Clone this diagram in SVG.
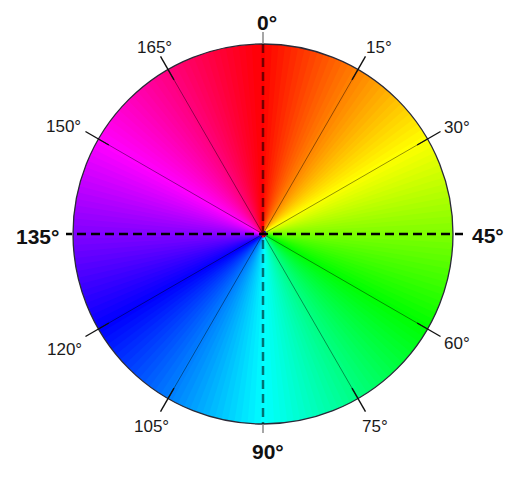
<svg xmlns="http://www.w3.org/2000/svg" xmlns:xlink="http://www.w3.org/1999/xlink" width="519" height="481" viewBox="0 0 519 481">
<style>
.s{font-family:"Liberation Sans",Arial,sans-serif;font-size:17px;fill:#1a1a1a}
.b{font-family:"Liberation Sans",Arial,sans-serif;font-size:21px;font-weight:bold;fill:#111}
.thin{stroke:#000;stroke-opacity:0.55;stroke-width:0.7}
.tick{stroke:#111;stroke-width:1.4}
</style>
<defs>
<clipPath id="cc"><circle cx="0" cy="0" r="190"/></clipPath>
<path id="w" d="M-1.2 3L-4.6 -200L4.6 -200L1.2 3Z"/>
</defs>
<rect width="519" height="481" fill="#fff"/>
<g id="wheel" transform="translate(263 234)">
<g clip-path="url(#cc)">
<use href="#w" fill="hsl(0,100%,50%)"/>
<use href="#w" transform="rotate(2)" fill="hsl(2,100%,50%)"/>
<use href="#w" transform="rotate(4)" fill="hsl(4,100%,50%)"/>
<use href="#w" transform="rotate(6)" fill="hsl(6,100%,50%)"/>
<use href="#w" transform="rotate(8)" fill="hsl(8,100%,50%)"/>
<use href="#w" transform="rotate(10)" fill="hsl(10,100%,50%)"/>
<use href="#w" transform="rotate(12)" fill="hsl(12,100%,50%)"/>
<use href="#w" transform="rotate(14)" fill="hsl(14,100%,50%)"/>
<use href="#w" transform="rotate(16)" fill="hsl(16,100%,50%)"/>
<use href="#w" transform="rotate(18)" fill="hsl(18,100%,50%)"/>
<use href="#w" transform="rotate(20)" fill="hsl(20,100%,50%)"/>
<use href="#w" transform="rotate(22)" fill="hsl(22,100%,50%)"/>
<use href="#w" transform="rotate(24)" fill="hsl(24,100%,50%)"/>
<use href="#w" transform="rotate(26)" fill="hsl(26,100%,50%)"/>
<use href="#w" transform="rotate(28)" fill="hsl(28,100%,50%)"/>
<use href="#w" transform="rotate(30)" fill="hsl(30,100%,50%)"/>
<use href="#w" transform="rotate(32)" fill="hsl(32,100%,50%)"/>
<use href="#w" transform="rotate(34)" fill="hsl(34,100%,50%)"/>
<use href="#w" transform="rotate(36)" fill="hsl(36,100%,50%)"/>
<use href="#w" transform="rotate(38)" fill="hsl(38,100%,50%)"/>
<use href="#w" transform="rotate(40)" fill="hsl(40,100%,50%)"/>
<use href="#w" transform="rotate(42)" fill="hsl(42,100%,50%)"/>
<use href="#w" transform="rotate(44)" fill="hsl(44,100%,50%)"/>
<use href="#w" transform="rotate(46)" fill="hsl(46,100%,50%)"/>
<use href="#w" transform="rotate(48)" fill="hsl(48,100%,50%)"/>
<use href="#w" transform="rotate(50)" fill="hsl(50,100%,50%)"/>
<use href="#w" transform="rotate(52)" fill="hsl(52,100%,50%)"/>
<use href="#w" transform="rotate(54)" fill="hsl(54,100%,50%)"/>
<use href="#w" transform="rotate(56)" fill="hsl(56,100%,50%)"/>
<use href="#w" transform="rotate(58)" fill="hsl(58,100%,50%)"/>
<use href="#w" transform="rotate(60)" fill="hsl(60,100%,50%)"/>
<use href="#w" transform="rotate(62)" fill="hsl(62,100%,50%)"/>
<use href="#w" transform="rotate(64)" fill="hsl(64,100%,50%)"/>
<use href="#w" transform="rotate(66)" fill="hsl(66,100%,50%)"/>
<use href="#w" transform="rotate(68)" fill="hsl(68,100%,50%)"/>
<use href="#w" transform="rotate(70)" fill="hsl(70,100%,50%)"/>
<use href="#w" transform="rotate(72)" fill="hsl(72,100%,50%)"/>
<use href="#w" transform="rotate(74)" fill="hsl(74,100%,50%)"/>
<use href="#w" transform="rotate(76)" fill="hsl(76,100%,50%)"/>
<use href="#w" transform="rotate(78)" fill="hsl(78,100%,50%)"/>
<use href="#w" transform="rotate(80)" fill="hsl(80,100%,50%)"/>
<use href="#w" transform="rotate(82)" fill="hsl(82,100%,50%)"/>
<use href="#w" transform="rotate(84)" fill="hsl(84,100%,50%)"/>
<use href="#w" transform="rotate(86)" fill="hsl(86,100%,50%)"/>
<use href="#w" transform="rotate(88)" fill="hsl(88,100%,50%)"/>
<use href="#w" transform="rotate(90)" fill="hsl(90,100%,50%)"/>
<use href="#w" transform="rotate(92)" fill="hsl(92,100%,50%)"/>
<use href="#w" transform="rotate(94)" fill="hsl(94,100%,50%)"/>
<use href="#w" transform="rotate(96)" fill="hsl(96,100%,50%)"/>
<use href="#w" transform="rotate(98)" fill="hsl(98,100%,50%)"/>
<use href="#w" transform="rotate(100)" fill="hsl(100,100%,50%)"/>
<use href="#w" transform="rotate(102)" fill="hsl(102,100%,50%)"/>
<use href="#w" transform="rotate(104)" fill="hsl(104,100%,50%)"/>
<use href="#w" transform="rotate(106)" fill="hsl(106,100%,50%)"/>
<use href="#w" transform="rotate(108)" fill="hsl(108,100%,50%)"/>
<use href="#w" transform="rotate(110)" fill="hsl(110,100%,50%)"/>
<use href="#w" transform="rotate(112)" fill="hsl(112,100%,50%)"/>
<use href="#w" transform="rotate(114)" fill="hsl(114,100%,50%)"/>
<use href="#w" transform="rotate(116)" fill="hsl(116,100%,50%)"/>
<use href="#w" transform="rotate(118)" fill="hsl(118,100%,50%)"/>
<use href="#w" transform="rotate(120)" fill="hsl(120,100%,50%)"/>
<use href="#w" transform="rotate(122)" fill="hsl(122,100%,50%)"/>
<use href="#w" transform="rotate(124)" fill="hsl(124,100%,50%)"/>
<use href="#w" transform="rotate(126)" fill="hsl(126,100%,50%)"/>
<use href="#w" transform="rotate(128)" fill="hsl(128,100%,50%)"/>
<use href="#w" transform="rotate(130)" fill="hsl(130,100%,50%)"/>
<use href="#w" transform="rotate(132)" fill="hsl(132,100%,50%)"/>
<use href="#w" transform="rotate(134)" fill="hsl(134,100%,50%)"/>
<use href="#w" transform="rotate(136)" fill="hsl(136,100%,50%)"/>
<use href="#w" transform="rotate(138)" fill="hsl(138,100%,50%)"/>
<use href="#w" transform="rotate(140)" fill="hsl(140,100%,50%)"/>
<use href="#w" transform="rotate(142)" fill="hsl(142,100%,50%)"/>
<use href="#w" transform="rotate(144)" fill="hsl(144,100%,50%)"/>
<use href="#w" transform="rotate(146)" fill="hsl(146,100%,50%)"/>
<use href="#w" transform="rotate(148)" fill="hsl(148,100%,50%)"/>
<use href="#w" transform="rotate(150)" fill="hsl(150,100%,50%)"/>
<use href="#w" transform="rotate(152)" fill="hsl(152,100%,50%)"/>
<use href="#w" transform="rotate(154)" fill="hsl(154,100%,50%)"/>
<use href="#w" transform="rotate(156)" fill="hsl(156,100%,50%)"/>
<use href="#w" transform="rotate(158)" fill="hsl(158,100%,50%)"/>
<use href="#w" transform="rotate(160)" fill="hsl(160,100%,50%)"/>
<use href="#w" transform="rotate(162)" fill="hsl(162,100%,50%)"/>
<use href="#w" transform="rotate(164)" fill="hsl(164,100%,50%)"/>
<use href="#w" transform="rotate(166)" fill="hsl(166,100%,50%)"/>
<use href="#w" transform="rotate(168)" fill="hsl(168,100%,50%)"/>
<use href="#w" transform="rotate(170)" fill="hsl(170,100%,50%)"/>
<use href="#w" transform="rotate(172)" fill="hsl(172,100%,50%)"/>
<use href="#w" transform="rotate(174)" fill="hsl(174,100%,50%)"/>
<use href="#w" transform="rotate(176)" fill="hsl(176,100%,50%)"/>
<use href="#w" transform="rotate(178)" fill="hsl(178,100%,50%)"/>
<use href="#w" transform="rotate(180)" fill="hsl(180,100%,50%)"/>
<use href="#w" transform="rotate(182)" fill="hsl(182,100%,50%)"/>
<use href="#w" transform="rotate(184)" fill="hsl(184,100%,50%)"/>
<use href="#w" transform="rotate(186)" fill="hsl(186,100%,50%)"/>
<use href="#w" transform="rotate(188)" fill="hsl(188,100%,50%)"/>
<use href="#w" transform="rotate(190)" fill="hsl(190,100%,50%)"/>
<use href="#w" transform="rotate(192)" fill="hsl(192,100%,50%)"/>
<use href="#w" transform="rotate(194)" fill="hsl(194,100%,50%)"/>
<use href="#w" transform="rotate(196)" fill="hsl(196,100%,50%)"/>
<use href="#w" transform="rotate(198)" fill="hsl(198,100%,50%)"/>
<use href="#w" transform="rotate(200)" fill="hsl(200,100%,50%)"/>
<use href="#w" transform="rotate(202)" fill="hsl(202,100%,50%)"/>
<use href="#w" transform="rotate(204)" fill="hsl(204,100%,50%)"/>
<use href="#w" transform="rotate(206)" fill="hsl(206,100%,50%)"/>
<use href="#w" transform="rotate(208)" fill="hsl(208,100%,50%)"/>
<use href="#w" transform="rotate(210)" fill="hsl(210,100%,50%)"/>
<use href="#w" transform="rotate(212)" fill="hsl(212,100%,50%)"/>
<use href="#w" transform="rotate(214)" fill="hsl(214,100%,50%)"/>
<use href="#w" transform="rotate(216)" fill="hsl(216,100%,50%)"/>
<use href="#w" transform="rotate(218)" fill="hsl(218,100%,50%)"/>
<use href="#w" transform="rotate(220)" fill="hsl(220,100%,50%)"/>
<use href="#w" transform="rotate(222)" fill="hsl(222,100%,50%)"/>
<use href="#w" transform="rotate(224)" fill="hsl(224,100%,50%)"/>
<use href="#w" transform="rotate(226)" fill="hsl(226,100%,50%)"/>
<use href="#w" transform="rotate(228)" fill="hsl(228,100%,50%)"/>
<use href="#w" transform="rotate(230)" fill="hsl(230,100%,50%)"/>
<use href="#w" transform="rotate(232)" fill="hsl(232,100%,50%)"/>
<use href="#w" transform="rotate(234)" fill="hsl(234,100%,50%)"/>
<use href="#w" transform="rotate(236)" fill="hsl(236,100%,50%)"/>
<use href="#w" transform="rotate(238)" fill="hsl(238,100%,50%)"/>
<use href="#w" transform="rotate(240)" fill="hsl(240,100%,50%)"/>
<use href="#w" transform="rotate(242)" fill="hsl(242,100%,50%)"/>
<use href="#w" transform="rotate(244)" fill="hsl(244,100%,50%)"/>
<use href="#w" transform="rotate(246)" fill="hsl(246,100%,50%)"/>
<use href="#w" transform="rotate(248)" fill="hsl(248,100%,50%)"/>
<use href="#w" transform="rotate(250)" fill="hsl(250,100%,50%)"/>
<use href="#w" transform="rotate(252)" fill="hsl(252,100%,50%)"/>
<use href="#w" transform="rotate(254)" fill="hsl(254,100%,50%)"/>
<use href="#w" transform="rotate(256)" fill="hsl(256,100%,50%)"/>
<use href="#w" transform="rotate(258)" fill="hsl(258,100%,50%)"/>
<use href="#w" transform="rotate(260)" fill="hsl(260,100%,50%)"/>
<use href="#w" transform="rotate(262)" fill="hsl(262,100%,50%)"/>
<use href="#w" transform="rotate(264)" fill="hsl(264,100%,50%)"/>
<use href="#w" transform="rotate(266)" fill="hsl(266,100%,50%)"/>
<use href="#w" transform="rotate(268)" fill="hsl(268,100%,50%)"/>
<use href="#w" transform="rotate(270)" fill="hsl(270,100%,50%)"/>
<use href="#w" transform="rotate(272)" fill="hsl(272,100%,50%)"/>
<use href="#w" transform="rotate(274)" fill="hsl(274,100%,50%)"/>
<use href="#w" transform="rotate(276)" fill="hsl(276,100%,50%)"/>
<use href="#w" transform="rotate(278)" fill="hsl(278,100%,50%)"/>
<use href="#w" transform="rotate(280)" fill="hsl(280,100%,50%)"/>
<use href="#w" transform="rotate(282)" fill="hsl(282,100%,50%)"/>
<use href="#w" transform="rotate(284)" fill="hsl(284,100%,50%)"/>
<use href="#w" transform="rotate(286)" fill="hsl(286,100%,50%)"/>
<use href="#w" transform="rotate(288)" fill="hsl(288,100%,50%)"/>
<use href="#w" transform="rotate(290)" fill="hsl(290,100%,50%)"/>
<use href="#w" transform="rotate(292)" fill="hsl(292,100%,50%)"/>
<use href="#w" transform="rotate(294)" fill="hsl(294,100%,50%)"/>
<use href="#w" transform="rotate(296)" fill="hsl(296,100%,50%)"/>
<use href="#w" transform="rotate(298)" fill="hsl(298,100%,50%)"/>
<use href="#w" transform="rotate(300)" fill="hsl(300,100%,50%)"/>
<use href="#w" transform="rotate(302)" fill="hsl(302,100%,50%)"/>
<use href="#w" transform="rotate(304)" fill="hsl(304,100%,50%)"/>
<use href="#w" transform="rotate(306)" fill="hsl(306,100%,50%)"/>
<use href="#w" transform="rotate(308)" fill="hsl(308,100%,50%)"/>
<use href="#w" transform="rotate(310)" fill="hsl(310,100%,50%)"/>
<use href="#w" transform="rotate(312)" fill="hsl(312,100%,50%)"/>
<use href="#w" transform="rotate(314)" fill="hsl(314,100%,50%)"/>
<use href="#w" transform="rotate(316)" fill="hsl(316,100%,50%)"/>
<use href="#w" transform="rotate(318)" fill="hsl(318,100%,50%)"/>
<use href="#w" transform="rotate(320)" fill="hsl(320,100%,50%)"/>
<use href="#w" transform="rotate(322)" fill="hsl(322,100%,50%)"/>
<use href="#w" transform="rotate(324)" fill="hsl(324,100%,50%)"/>
<use href="#w" transform="rotate(326)" fill="hsl(326,100%,50%)"/>
<use href="#w" transform="rotate(328)" fill="hsl(328,100%,50%)"/>
<use href="#w" transform="rotate(330)" fill="hsl(330,100%,50%)"/>
<use href="#w" transform="rotate(332)" fill="hsl(332,100%,50%)"/>
<use href="#w" transform="rotate(334)" fill="hsl(334,100%,50%)"/>
<use href="#w" transform="rotate(336)" fill="hsl(336,100%,50%)"/>
<use href="#w" transform="rotate(338)" fill="hsl(338,100%,50%)"/>
<use href="#w" transform="rotate(340)" fill="hsl(340,100%,50%)"/>
<use href="#w" transform="rotate(342)" fill="hsl(342,100%,50%)"/>
<use href="#w" transform="rotate(344)" fill="hsl(344,100%,50%)"/>
<use href="#w" transform="rotate(346)" fill="hsl(346,100%,50%)"/>
<use href="#w" transform="rotate(348)" fill="hsl(348,100%,50%)"/>
<use href="#w" transform="rotate(350)" fill="hsl(350,100%,50%)"/>
<use href="#w" transform="rotate(352)" fill="hsl(352,100%,50%)"/>
<use href="#w" transform="rotate(354)" fill="hsl(354,100%,50%)"/>
<use href="#w" transform="rotate(356)" fill="hsl(356,100%,50%)"/>
<use href="#w" transform="rotate(358)" fill="hsl(358,100%,50%)"/>
</g>
<circle r="190" fill="none" stroke="#2a2a38" stroke-width="1.3"/>
</g>
<g id="connectors">
<g transform="translate(263 234)">
<line class="thin" x1="0" y1="0" x2="0" y2="-190" transform="rotate(30)"/>
<line class="thin" x1="0" y1="0" x2="0" y2="-190" transform="rotate(60)"/>
<line class="thin" x1="0" y1="0" x2="0" y2="-190" transform="rotate(120)"/>
<line class="thin" x1="0" y1="0" x2="0" y2="-190" transform="rotate(150)"/>
<line class="thin" x1="0" y1="0" x2="0" y2="-190" transform="rotate(210)"/>
<line class="thin" x1="0" y1="0" x2="0" y2="-190" transform="rotate(240)"/>
<line class="thin" x1="0" y1="0" x2="0" y2="-190" transform="rotate(300)"/>
<line class="thin" x1="0" y1="0" x2="0" y2="-190" transform="rotate(330)"/>
<line class="tick" x1="0" y1="-178" x2="0" y2="-205" transform="rotate(30)"/>
<line class="tick" x1="0" y1="-178" x2="0" y2="-205" transform="rotate(60)"/>
<line class="tick" x1="0" y1="-178" x2="0" y2="-205" transform="rotate(120)"/>
<line class="tick" x1="0" y1="-178" x2="0" y2="-205" transform="rotate(150)"/>
<line class="tick" x1="0" y1="-178" x2="0" y2="-205" transform="rotate(210)"/>
<line class="tick" x1="0" y1="-178" x2="0" y2="-205" transform="rotate(240)"/>
<line class="tick" x1="0" y1="-178" x2="0" y2="-205" transform="rotate(300)"/>
<line class="tick" x1="0" y1="-178" x2="0" y2="-205" transform="rotate(330)"/>
</g>
<line x1="263" y1="32" x2="263" y2="44" stroke="#888" stroke-width="1.5"/>
<line x1="263" y1="424" x2="263" y2="433" stroke="#888" stroke-width="1.5"/>
<line x1="263" y1="44" x2="263" y2="424" stroke="#000" stroke-opacity="0.55" stroke-width="2.5" stroke-dasharray="9 5"/>
<line x1="66" y1="234" x2="463" y2="234" stroke="#000" stroke-width="2.5" stroke-dasharray="9 5" stroke-dashoffset="3"/>
</g>
<g id="labels">
<text class="b" x="257" y="30">0°</text>
<text class="b" x="472" y="243">45°</text>
<text class="b" x="252" y="459">90°</text>
<text class="b" x="16" y="244">135°</text>
<text class="s" x="366" y="53">15°</text>
<text class="s" x="444" y="133">30°</text>
<text class="s" x="444" y="349">60°</text>
<text class="s" x="362" y="432">75°</text>
<text class="s" x="134" y="432">105°</text>
<text class="s" x="47" y="355">120°</text>
<text class="s" x="46" y="132">150°</text>
<text class="s" x="137" y="53">165°</text>
</g>
</svg>
